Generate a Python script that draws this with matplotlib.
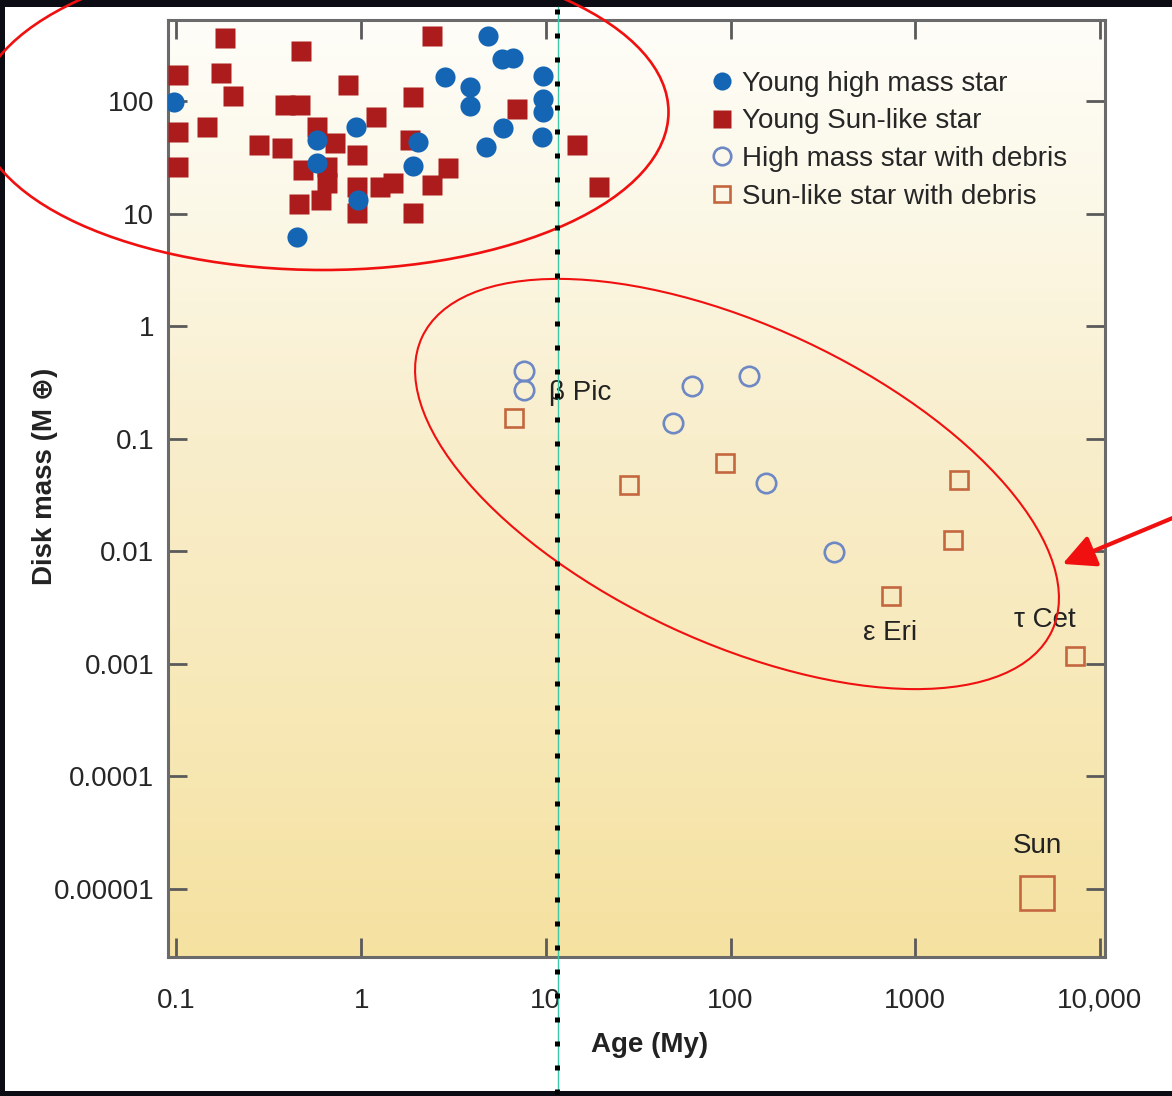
import numpy as np
import matplotlib
matplotlib.use('Agg')
import matplotlib.pyplot as plt
from matplotlib.patches import Ellipse, Rectangle, FancyArrowPatch
from matplotlib.lines import Line2D

plt.rcParams['font.family'] = ['Liberation Sans', 'DejaVu Sans']

# young high mass stars (filled blue circles): age (My), disk mass (M_earth)
hm_age = [0.097, 0.94, 0.58, 0.58, 0.96, 0.45, 2.03, 1.91, 4.86, 5.78,
          6.64, 2.84, 3.88, 3.88, 9.64, 9.64, 9.64, 9.52, 5.86, 4.74]
hm_mass = [98.4, 59.0, 45.2, 28.2, 13.2, 6.2, 43.4, 26.5, 379, 237,
           242, 164, 134, 90.6, 167, 105, 80.2, 48.1, 57.8, 39.2]

# young Sun-like stars (filled red squares)
sl_age = [0.183, 0.472, 2.42, 0.102, 0.174, 0.202, 0.849, 0.102, 0.146, 0.102,
          0.387, 0.466, 1.91, 1.20, 0.576, 6.98, 0.280, 0.372, 0.721, 0.949,
          1.84, 2.95, 0.484, 0.653, 0.653, 0.949, 1.26, 1.49, 2.42, 0.461,
          0.605, 0.949, 1.91, 14.8, 19.4]
sl_mass = [365, 279, 379, 171, 178, 111, 139, 53.2, 59.0, 26.0,
           92.5, 92.5, 109, 72.4, 59.0, 85.3, 40.8, 38.4, 42.5, 33.2,
           45.2, 25.5, 24.5, 26.0, 18.7, 17.3, 17.3, 18.7, 18.0, 12.2,
           13.2, 10.1, 10.1, 40.8, 17.3]

# high mass stars with debris (open circles)
hmd_age = [7.6, 7.6, 61.8, 126, 48.8, 156, 363]
hmd_mass = [0.399, 0.270, 0.294, 0.361, 0.138, 0.0404, 0.00986]

# Sun-like stars with debris (open squares)
sld_age = [6.72, 28.2, 93.3, 1726, 1600, 738, 7330]
sld_mass = [0.153, 0.0388, 0.0610, 0.0431, 0.0126, 0.0040, 0.00117]

sun_age = [4560]
sun_mass = [9.2e-6]

names = ['β Pic', 'ε Eri', 'τ Cet', 'Sun']
name_x = [15.3, 731, 5035, 4560]
name_y = [0.255, 0.00188, 0.00244, 2.4e-5]

xticks = [0.1, 1, 10, 100, 1000, 10000]
xticklabels = ['0.1', '1', '10', '100', '1000', '10,000']
yticks = [1e-5, 1e-4, 1e-3, 1e-2, 0.1, 1, 10, 100]
yticklabels = ['0.00001', '0.0001', '0.001', '0.01', '0.1', '1', '10', '100']

W, H = 1172, 1096
fig = plt.figure(figsize=(W / 100, H / 100), dpi=100, facecolor='#0b0c14')
fig.add_artist(Rectangle((5 / W, 1 - 1091 / H), 1, (1091 - 7) / H,
                         transform=fig.transFigure, facecolor='white',
                         edgecolor='none', zorder=-10))

rect = [168 / W, 1 - 957 / H, (1105 - 168) / W, (957 - 20) / H]

# background gradient
bg = fig.add_axes(rect, zorder=0)
stops = np.array([0.0, 0.2, 0.45, 0.75, 1.0])
cols = np.array([[254, 253, 248], [252, 248, 232], [249, 238, 204],
                 [247, 232, 182], [245, 225, 160]]) / 255
t = np.linspace(0, 1, 256)
grad = np.stack([np.interp(t, stops, cols[:, k]) for k in range(3)], axis=1)
bg.imshow(grad[:, None, :], extent=(0, 1, 0, 1), aspect='auto', origin='upper')
bg.set_axis_off()

ax = fig.add_axes(rect, zorder=1)
ax.set_facecolor('none')
ax.set_xscale('log')
ax.set_yscale('log')
ax.set_xlim(0.090, 10650)
ax.set_ylim(2.47e-6, 527)

ax.plot(hm_age, hm_mass, 'o', ms=14.5, color='#1565b5', mec='none',
        label='Young high mass star', zorder=4)
ax.plot(sl_age, sl_mass, 's', ms=14.5, color='#ad1c1c', mec='none',
        label='Young Sun-like star', zorder=3)
ax.plot(hmd_age, hmd_mass, 'o', ms=14, mfc='none', mec='#6d88c4', mew=1.9,
        label='High mass star with debris', zorder=3)
ax.plot(sld_age, sld_mass, 's', ms=13, mfc='none', mec='#c4673f', mew=1.9,
        label='Sun-like star with debris', zorder=3)
ax.plot(sun_age, sun_mass, 's', ms=25, mfc='none', mec='#c4673f', mew=1.9,
        zorder=3)

for n, x, y in zip(names, name_x, name_y):
    ax.text(x, y, n, fontsize=20, color='#222222', ha='center', va='center')

ax.set_xticks(xticks)
ax.set_xticklabels(xticklabels)
ax.set_yticks(yticks)
ax.set_yticklabels(yticklabels)
ax.minorticks_off()
ax.tick_params(which='major', direction='in', length=14, width=2,
               color='#5a5a5a', top=True, right=True, labelsize=20,
               labelcolor='#262626')
ax.tick_params(axis='x', pad=22)
ax.tick_params(axis='y', pad=10)
for s in ax.spines.values():
    s.set_color('#6a6a6a')
    s.set_linewidth(2.2)

ax.text(-0.131, 0.513, 'Disk mass (M ⊕)', transform=ax.transAxes, rotation=90,
        ha='center', va='center', fontsize=20, fontweight='bold', color='#222222')
ax.text(0.514, -0.094, 'Age (My)', transform=ax.transAxes,
        ha='center', va='center', fontsize=20, fontweight='bold', color='#222222')

leg = ax.legend(loc='upper left', bbox_to_anchor=(0.578, 0.946), frameon=False,
                fontsize=20, handlelength=0.9, handletextpad=0.25,
                labelspacing=0.42, borderpad=0, borderaxespad=0, markerscale=0.9)
for txt in leg.get_texts():
    txt.set_color('#262626')

# overlays: red ellipses, arrow, dotted and cyan vertical lines
inch = fig.dpi_scale_trans
fig.add_artist(Ellipse((3.23, (H - 112) / 100), 6.91, 3.16, angle=0,
                       transform=inch, fill=False, edgecolor='#f01010', lw=1.9,
                       zorder=20))
fig.add_artist(Ellipse((7.37, (H - 484) / 100), 6.95, 3.16, angle=-25,
                       transform=inch, fill=False, edgecolor='#f01010', lw=1.5,
                       zorder=20))
fig.add_artist(FancyArrowPatch((11.75, (H - 517) / 100), (10.60, (H - 565) / 100),
                               transform=inch, arrowstyle='-|>,head_length=0.9,head_width=0.45',
                               mutation_scale=22, color='#f01010', lw=3, zorder=20))
fig.add_artist(Line2D([557.5 / W, 557.5 / W], [1 - 7 / H, 1 - 1091 / H],
                      transform=fig.transFigure, color='#3cc8a8', lw=1.0, zorder=21))
fig.add_artist(Line2D([557 / W, 557 / W], [1 - 8.5 / H, 0],
                      transform=fig.transFigure, color='black', lw=3.6,
                      dashes=(1, 3.8), solid_capstyle='butt', dash_capstyle='butt',
                      zorder=22))

fig.savefig('out.png', dpi=100, facecolor=fig.get_facecolor())
